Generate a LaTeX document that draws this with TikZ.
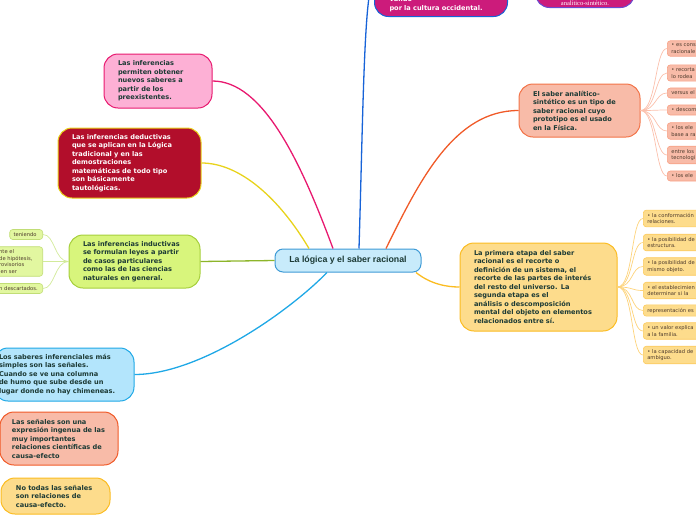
\documentclass[tikz,border=0pt]{standalone}
\usepackage{fontspec}
\setmainfont{DejaVu Sans}
\newfontfamily\rootfont{Liberation Sans}
\newfontfamily\notefont{Liberation Serif}
\usepackage{xcolor}
\usetikzlibrary{positioning}

\definecolor{txtdark}{HTML}{1C3A35}
\definecolor{leaftxt}{HTML}{4D3A2C}
\definecolor{rootfill}{HTML}{C8EBFB}
\definecolor{rootline}{HTML}{3E9BD6}
\definecolor{pinkfill}{HTML}{FDB0D5}
\definecolor{pinkline}{HTML}{E8196F}
\definecolor{wine}{HTML}{B20E2B}
\definecolor{yelline}{HTML}{E8D31C}
\definecolor{limefill}{HTML}{D8F57C}
\definecolor{limeline}{HTML}{A6CF3C}
\definecolor{limebranch}{HTML}{8DB52A}
\definecolor{limeleaf}{HTML}{E2F7A0}
\definecolor{limetwig}{HTML}{D2EA9A}
\definecolor{skyfill}{HTML}{B3E5FC}
\definecolor{skyline}{HTML}{1FA8E6}
\definecolor{salmfill}{HTML}{F8BBA8}
\definecolor{salmline}{HTML}{F05A28}
\definecolor{salmleaf}{HTML}{F7A185}
\definecolor{salmtwig}{HTML}{FBC0AC}
\definecolor{goldfill}{HTML}{FDDC8C}
\definecolor{goldline}{HTML}{FBBC21}
\definecolor{goldleaf}{HTML}{FCCB5E}
\definecolor{goldtwig}{HTML}{FDD37A}
\definecolor{magfill}{HTML}{CC1B7B}
\definecolor{blueline}{HTML}{1763D8}
\definecolor{violine}{HTML}{6A4BD0}

\tikzset{
  topic/.style={rectangle, draw, line width=1pt, rounded corners=14pt,
                align=left, inner sep=0pt, text=txtdark,
                font=\bfseries\fontsize{6.6}{8.5}\selectfont},
  rootbox/.style={rectangle, draw=rootline, fill=rootfill, line width=1pt,
                  rounded corners=8pt, minimum width=146pt, minimum height=23pt,
                  text=txtdark, font=\rootfont\bfseries\fontsize{8.8}{10}\selectfont},
  leaf/.style={rectangle, draw, line width=0.6pt, rounded corners=3pt,
               align=left, inner xsep=4pt, inner ysep=3pt, text=leaftxt,
               font=\fontsize{5.2}{6.5}\selectfont},
  anaitem/.style={leaf, fill=salmfill, draw=salmleaf, text width=30pt, anchor=west},
  stageitem/.style={leaf, fill=goldfill, draw=goldleaf, text width=50pt, anchor=west},
  inditem/.style={leaf, fill=limeleaf, draw=limeline!70, anchor=east},
  branch/.style={line width=1.3pt},
  twig/.style={line width=0.7pt},
}

\begin{document}
\begin{tikzpicture}[x=1pt, y=-1pt]
\useasboundingbox (0,0) rectangle (696,520);
\clip (0,0) rectangle (696,520);

% ── tema central ────────────────────────────────────────────────────────────
\node[rootbox] (root) at (348,260.5) {La lógica y el saber racional};

% ── ramas de la izquierda ───────────────────────────────────────────────────
\node[topic, fill=pinkfill, draw=pinkline, minimum width=108pt,
      minimum height=54pt, text width=80pt] (infer) at (158,81)
  {Las inferencias\\permiten obtener\\nuevos saberes a\\partir de los\\preexistentes.};

\node[topic, fill=wine, draw=yelline, text=white, minimum width=143pt,
      minimum height=70pt, text width=115pt] (deduc) at (129.5,163)
  {Las inferencias deductivas\\que se aplican en la Lógica\\tradicional y en las\\demostraciones\\matemáticas de todo tipo\\son básicamente\\tautológicas.};

\node[topic, fill=limefill, draw=limeline, minimum width=131pt,
      minimum height=53pt, text width=103pt] (induc) at (134.5,261.5)
  {Las inferencias inductivas\\se formulan leyes a partir\\de casos particulares\\como las de las ciencias\\naturales en general.};

\node[topic, fill=skyfill, draw=skyline, minimum width=140pt,
      minimum height=53pt, text width=130pt] (senal) at (64,374.5)
  {Los saberes inferenciales más\\simples son las señales.\\Cuando se ve una columna\\de humo que sube desde un\\lugar donde no hay chimeneas.};

\node[topic, fill=salmfill, draw=salmline, minimum width=118pt,
      minimum height=53pt, text width=94pt] (ingenua) at (59,438.5)
  {Las señales son una\\expresión ingenua de las\\muy importantes\\relaciones científicas de\\causa-efecto};

\node[topic, fill=goldfill, draw=goldline, minimum width=109pt,
      minimum height=36pt, text width=79pt] (notodas) at (55.5,496)
  {No todas las señales\\son relaciones de\\causa-efecto.};

% hojas de la rama inductiva
\node[inditem, text width=25pt] (i1) at (43,234.5) {teniendo};
\node[inditem, text width=39.5pt] (i2) at (43,261.5)
  {nte el\\de hipótesis,\\rovisorios\\ien ser};
\node[inditem, text width=39.5pt] (i3) at (43,288.5) {n descartados.};

% ── ramas de arriba ─────────────────────────────────────────────────────────
\node[topic, fill=magfill, draw=blueline, text=white, minimum width=133pt,
      text width=103pt, inner ysep=5pt, anchor=south west] (valido) at (374,17)
  {\rule{0pt}{40pt}el único tipo de saber válido\\por la cultura occidental.};

\node[topic, fill=magfill, draw=violine, text=white, minimum width=99pt,
      inner ysep=2pt, align=center, anchor=south west,
      font=\notefont\fontsize{6.5}{8}\selectfont] (analsint) at (535,8)
  {\rule{0pt}{30pt}analítico-sintético.};

% ── ramas de la derecha ─────────────────────────────────────────────────────
\node[topic, fill=salmfill, draw=salmline!85, minimum width=121pt,
      minimum height=53pt, text width=93pt] (analit) at (579.5,110.5)
  {El saber analítico-\\sintético es un tipo de\\saber racional cuyo\\prototipo es el usado\\en la Física.};

\node[topic, fill=goldfill, draw=goldline, minimum width=157pt,
      minimum height=88pt, text width=129pt] (etapa) at (538.5,287)
  {La primera etapa del saber\\racional es el recorte o\\definición de un sistema, el\\recorte de las partes de interés\\del resto del universo. La\\segunda etapa es el\\análisis o descomposición\\mental del objeto en elementos\\relacionados entre sí.};

% hojas de la rama analítico-sintética
\node[anaitem] (a1) at (667,48.5)  {• es cons\\racionale};
\node[anaitem] (a2) at (667,73)    {• recorta\\lo rodea};
\node[anaitem] (a3) at (667,93)    {versus el};
\node[anaitem] (a4) at (667,110)   {• descom};
\node[anaitem] (a5) at (667,131)   {• los ele\\base a ra};
\node[anaitem] (a6) at (667,155)   {entre los\\tecnologi};
\node[anaitem] (a7) at (667,176)   {• los ele};

% hojas de la rama de las etapas
\node[stageitem] (s1) at (643,218.5) {• la conformación\\relaciones.};
\node[stageitem] (s2) at (643,242.5) {• la posibilidad de\\estructura.};
\node[stageitem] (s3) at (643,266.5) {• la posibilidad de\\mismo objeto.};
\node[stageitem] (s4) at (643,290.5) {• el establecimien\\determinar si la};
\node[stageitem] (s5) at (643,310.5) {representación es};
\node[stageitem] (s6) at (643,331)   {• un valor explica\\a la familia.};
\node[stageitem] (s7) at (643,355)   {• la capacidad de\\ambiguo.};

% ── conectores principales ──────────────────────────────────────────────────
\draw[branch, pinkline] (infer.east) .. controls +(50,0) and +(-33,-89) .. ([xshift=-15pt]root.north);
\draw[branch, yelline] (deduc.east) .. controls +(39,0) and +(-29,-49) .. ([xshift=-39pt]root.north);
\draw[branch, limebranch] (induc.east) -- (root.west);
\draw[branch, skyline] ([xshift=-21pt]root.south) .. controls +(-37,38) and +(66,0) .. (senal.east);
\draw[branch, blueline] ([xshift=11pt]root.north) .. controls +(4,-130) and +(-10,0) .. (valido.west);
\draw[branch, salmline] ([xshift=38pt]root.north) .. controls +(34,-69) and +(-64,0) .. (analit.west);
\draw[branch, goldline] ([xshift=68pt]root.south) .. controls +(15,12) and +(-12,0) .. (etapa.west);

% ── conectores de las hojas ─────────────────────────────────────────────────
\foreach \n in {i1,i2,i3}
  \draw[twig, limetwig] (induc.west) .. controls +(-14,0) and +(12,0) .. (\n.east);
\foreach \n in {a1,a2,a3,a4,a5,a6,a7}
  \draw[twig, salmtwig] (analit.east) .. controls +(16,0) and +(-12,0) .. (\n.west);
\foreach \n in {s1,s2,s3,s4,s5,s6,s7}
  \draw[twig, goldtwig] (etapa.east) .. controls +(16,0) and +(-12,0) .. (\n.west);

\end{tikzpicture}
\end{document}
